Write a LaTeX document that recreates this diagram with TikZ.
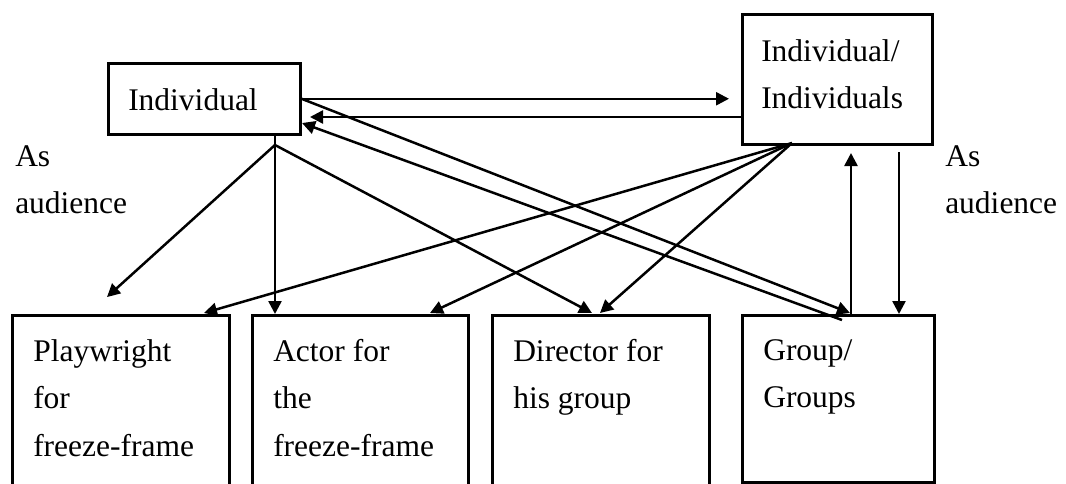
\documentclass[tikz,border=0pt]{standalone}
\usepackage{fontspec}
\setmainfont{Liberation Serif}
\usetikzlibrary{arrows.meta}
\usetikzlibrary{positioning}

\tikzset{
  box/.style={rectangle,draw=black,anchor=north west,inner sep=0pt},
  txt/.style={anchor=north west,inner sep=0pt,align=left,font=\fontsize{15.75}{23.75}\selectfont},
  >={Triangle[length=6.5pt,width=6.5pt]}
}

\begin{document}
\begin{tikzpicture}[x=0.5pt,y=-0.5pt,line width=1.25pt]
\useasboundingbox (0,0) rectangle (1066,483);
% boxes
\node[box,minimum width=96pt,minimum height=35.5pt](ind) at (107,62){};
\node[box,minimum width=95pt,minimum height=65pt](inds) at (741,13){};
\node[box,minimum width=108.5pt,minimum height=100pt](play) at (11,314){};
\node[box,minimum width=108pt,minimum height=100pt](act) at (251,314){};
\node[box,minimum width=108.5pt,minimum height=100pt](dir) at (491,314){};
\node[box,minimum width=96pt,minimum height=83.5pt](grp) at (741,314){};
% texts
\node[txt](indtext) at (127,87){Individual};
\node[txt](indstext) at (760,38){Individual/\\Individuals};
\node[txt](playtext) at (32,338){Playwright\\for\\freeze-frame};
\node[txt](acttext) at (272,338){Actor for\\the\\freeze-frame};
\node[txt](dirtext) at (512,338){Director for\\his group};
\node[txt](grptext) at (762,338){Group/\\Groups};
\node[txt](audleft) at (14,144){As\\audience};
\node[txt](audright) at (944,144){As\\audience};
% end points
\coordinate (indfork) at (275,145);
\coordinate (indsfork) at (792,143);
\coordinate (indback) at (310,117);
\coordinate (indcorner) at (302,123);
\coordinate (grpin) at (850,313);
\coordinate (grpout) at (842,320);
\coordinate (indsup) at (851,153);
\coordinate (indsdown) at (899,152);
\coordinate (playtip) at (107,297);
\coordinate (playtop) at (204,313);
\coordinate (acttop) at (430,313);
\coordinate (dirtopa) at (592,313);
\coordinate (dirtopb) at (600,313);
% arrows
\draw[->,shorten >=6pt] (ind.east) -- (ind.east -| inds.west);
\draw[->] (inds.west |- indback) -- (indback);
\draw[->] (ind.east) -- (grpin);
\draw[->] (grpout) -- (indcorner);
\draw[->] (indfork |- ind.south) -- (indfork |- act.north);
\draw[->] (indfork) -- (playtip);
\draw[->] (indfork) -- (dirtopa);
\draw[->] (indsfork) -- (playtop);
\draw[->] (indsfork) -- (acttop);
\draw[->] (indsfork) -- (dirtopb);
\draw[->] (indsup |- grp.north) -- (indsup);
\draw[->] (indsdown) -- (indsdown |- grp.north);
\end{tikzpicture}
\end{document}
